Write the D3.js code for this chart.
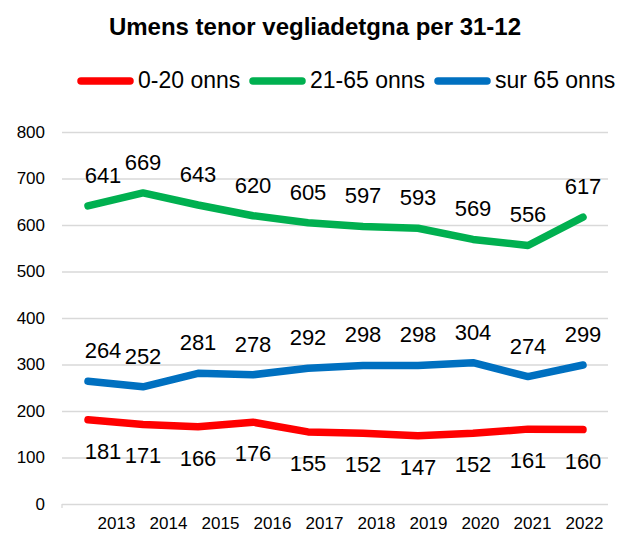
<!DOCTYPE html>
<html>
<head>
<meta charset="utf-8">
<script src="https://cdn.jsdelivr.net/npm/d3@7"></script>
<style>
  body { margin: 0; background: #fff; }
  text { font-family: "Liberation Sans", Arial, sans-serif; fill: #000; }
</style>
</head>
<body>
<svg id="chart" width="620" height="534"></svg>
<script>
// Chart data
var years = [2013, 2014, 2015, 2016, 2017, 2018, 2019, 2020, 2021, 2022];
var young = [181, 171, 166, 176, 155, 152, 147, 152, 161, 160];
var adult = [641, 669, 643, 620, 605, 597, 593, 569, 556, 617];
var senior = [264, 252, 281, 278, 292, 298, 298, 304, 274, 299];
var yTicks = [0, 100, 200, 300, 400, 500, 600, 700, 800];

var seriesNames = ["0-20 onns", "21-65 onns", "sur 65 onns"];

var series = [
  {name: seriesNames[0], values: young, color: "#FF0000", below: true},
  {name: seriesNames[1], values: adult, color: "#00B050", below: false},
  {name: seriesNames[2], values: senior, color: "#0070C0", below: false}
];

var svg = d3.select("#chart");

var plot = {l: 62, r: 608, t: 132, b: 504};

// Scales
var xScale = d3.scalePoint().domain(years).range([88, 583]);
var xLabelScale = d3.scalePoint().domain(years).range([116, 584]);
var yScale = d3.scaleLinear().domain([0, 800]).range([plot.b, plot.t]);

// Title
svg.append("text")
  .attr("x", 315)
  .attr("y", 35)
  .attr("text-anchor", "middle")
  .style("font-size", "24px")
  .style("font-weight", "bold")
  .text("Umens tenor vegliadetgna per 31-12");

// Legend
var legendX = [81, 253, 438];
series.forEach(function(s, i) {
  svg.append("line")
    .attr("x1", legendX[i])
    .attr("x2", legendX[i] + 49)
    .attr("y1", 81)
    .attr("y2", 81)
    .attr("stroke", s.color)
    .attr("stroke-width", 7.5)
    .attr("stroke-linecap", "round");
  svg.append("text")
    .attr("x", legendX[i] + 57)
    .attr("y", 88)
    .style("font-size", "23px")
    .text(s.name);
});

// Y axis with gridlines
var yAxis = svg.append("g")
  .attr("transform", "translate(" + plot.l + ",0)")
  .call(d3.axisLeft(yScale)
    .tickValues(yTicks)
    .tickSize(-(plot.r - plot.l))
    .tickPadding(17));
yAxis.select(".domain").remove();
yAxis.selectAll("line").attr("stroke", "#d9d9d9").attr("stroke-width", 1.3);
yAxis.selectAll("text")
  .style("font-size", "17px")
  .style("font-family", "'Liberation Sans', Arial, sans-serif")
  .attr("fill", "#000");

// small tick at the origin
svg.append("line")
  .attr("x1", plot.l).attr("x2", plot.l)
  .attr("y1", plot.b).attr("y2", plot.b + 4)
  .attr("stroke", "#d9d9d9")
  .attr("stroke-width", 1.3);

// X axis labels
var xAxis = svg.append("g")
  .attr("transform", "translate(0," + plot.b + ")")
  .call(d3.axisBottom(xLabelScale).tickSize(0).tickPadding(13));
xAxis.select(".domain").remove();
xAxis.selectAll("text")
  .style("font-size", "17px")
  .style("font-family", "'Liberation Sans', Arial, sans-serif")
  .attr("fill", "#000");

// Lines
var line = d3.line()
  .x(function(d, i) { return xScale(years[i]); })
  .y(function(d) { return yScale(d); });

series.forEach(function(s) {
  svg.append("path")
    .datum(s.values)
    .attr("d", line)
    .attr("fill", "none")
    .attr("stroke", s.color)
    .attr("stroke-width", 7.5)
    .attr("stroke-linecap", "round")
    .attr("stroke-linejoin", "round");

  svg.append("g").selectAll("text")
    .data(s.values)
    .enter().append("text")
    .attr("x", function(d, i) { return xScale(years[i]) + (i == 0 ? 15 : 0); })
    .attr("y", function(d) { return yScale(d) + (s.below ? 39 : -23); })
    .attr("text-anchor", "middle")
    .style("font-size", "22px")
    .text(function(d) { return d; });
});
</script>
</body>
</html>
